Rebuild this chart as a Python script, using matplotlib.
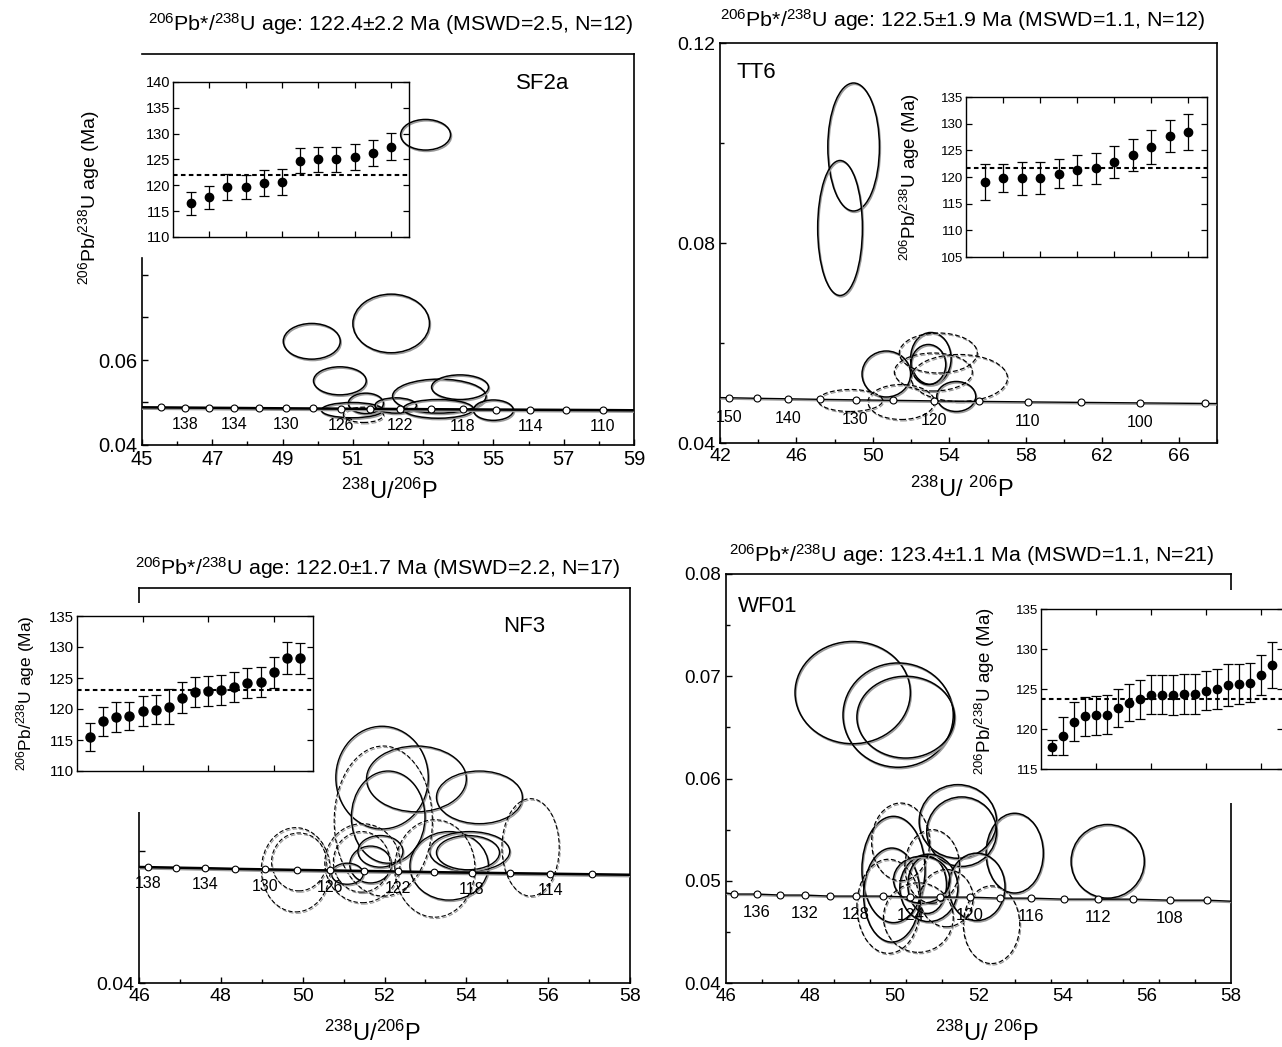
import numpy as np
import matplotlib
matplotlib.use('Agg')
import matplotlib.pyplot as plt
import matplotlib.patheffects as pe
from matplotlib.patches import Ellipse, Rectangle
from matplotlib.ticker import FormatStrFormatter, NullFormatter

plt.rcParams['font.family'] = ['Liberation Sans', 'DejaVu Sans']
plt.rcParams['mathtext.fontset'] = 'custom'
plt.rcParams['mathtext.rm'] = 'Liberation Sans'
plt.rcParams['mathtext.it'] = 'Liberation Sans:italic'
plt.rcParams['mathtext.bf'] = 'Liberation Sans:bold'

W, H = 1282, 1047

# ---------------- SF2a ----------------
sf2a_age = [116.5, 117.7, 119.6, 119.7, 120.5, 120.7, 124.8, 125.0, 125.0, 125.5, 126.3, 127.5]
sf2a_err = [2.2, 2.25, 2.5, 2.3, 2.5, 2.5, 2.4, 2.45, 2.45, 2.5, 2.5, 2.55]
sf2a_mean = 122.0
sf2a_conc_x = [45.55, 46.22, 46.90, 47.61, 48.34, 49.09, 49.86, 50.66, 51.49, 52.34,
               53.22, 54.13, 55.07, 56.05, 57.06, 58.11]
sf2a_conc_y = [0.04884, 0.04880, 0.04876, 0.04872, 0.04867, 0.04863, 0.04859, 0.04855,
               0.04851, 0.04847, 0.04842, 0.04838, 0.04834, 0.04830, 0.04826, 0.04822]
sf2a_conc_lab = ['', '138', '', '134', '', '130', '', '126', '', '122', '', '118', '', '114', '', '110']
sf2a_line_x = [45.0, 59.0]
sf2a_line_y = [0.04887, 0.04817]
sf2a_ell_x = [53.07, 49.83, 52.09, 50.63, 51.37, 50.98, 51.30, 52.22, 53.46, 54.05, 53.43, 55.00]
sf2a_ell_y = [0.1130, 0.0644, 0.0686, 0.0551, 0.0498, 0.0482, 0.0471, 0.0493, 0.0515, 0.0536, 0.0485, 0.0482]
sf2a_ell_sx = [0.71, 0.81, 1.09, 0.75, 0.50, 0.88, 0.57, 0.59, 1.33, 0.81, 1.00, 0.57]
sf2a_ell_sy = [0.0036, 0.0042, 0.0069, 0.0033, 0.0024, 0.0018, 0.0018, 0.0018, 0.0040, 0.0029, 0.0022, 0.0024]
sf2a_ell_excl = [0, 0, 0, 0, 0, 0, 1, 0, 0, 0, 0, 0]

# ---------------- TT6 ----------------
tt6_age = [119.0, 119.8, 119.8, 119.8, 120.6, 121.3, 121.6, 122.8, 124.1, 125.6, 127.7, 128.4]
tt6_err = [3.4, 2.7, 3.1, 3.0, 2.75, 2.75, 2.9, 2.95, 3.05, 3.2, 3.05, 3.35]
tt6_mean = 121.75
tt6_conc_x = [42.48, 43.96, 45.55, 47.25, 49.09, 51.07, 53.22, 55.56, 58.11, 60.90, 63.97, 67.36]
tt6_conc_y = [0.04905, 0.04894, 0.04884, 0.04873, 0.04863, 0.04853, 0.04842, 0.04832,
              0.04822, 0.04812, 0.04802, 0.04791]
tt6_conc_lab = ['150', '', '140', '', '130', '', '120', '', '110', '', '100', '']
tt6_line_x = [42.0, 68.0]
tt6_line_y = [0.04908, 0.04789]
tt6_ell_x = [48.99, 48.28, 50.70, 53.03, 52.90, 54.36, 53.42, 54.52, 53.16, 48.82, 51.48]
tt6_ell_y = [0.0992, 0.0830, 0.0538, 0.0569, 0.0557, 0.0493, 0.0580, 0.0530, 0.0542, 0.0485, 0.0482]
tt6_ell_sx = [1.35, 1.17, 1.27, 1.06, 0.91, 1.02, 2.04, 2.52, 2.04, 1.69, 1.74]
tt6_ell_sy = [0.0128, 0.0135, 0.0046, 0.0052, 0.0040, 0.0030, 0.0040, 0.0047, 0.0038, 0.0022, 0.0035]
tt6_ell_excl = [0, 0, 0, 0, 0, 0, 1, 1, 1, 1, 1]

# ---------------- NF3 ----------------
nf3_age = [115.5, 118.0, 118.7, 118.9, 119.7, 119.9, 120.4, 121.8, 122.8, 122.9, 123.1,
           123.5, 124.2, 124.4, 125.9, 128.2, 128.2]
nf3_err = [2.2, 2.3, 2.35, 2.3, 2.4, 2.35, 2.85, 2.5, 2.4, 2.4, 2.45, 2.4, 2.45, 2.4, 2.5, 2.6, 2.5]
nf3_mean = 123.0
nf3_conc_x = [46.22, 46.90, 47.61, 48.34, 49.09, 49.86, 50.66, 51.49, 52.34, 53.22,
              54.13, 55.07, 56.05, 57.06]
nf3_conc_y = [0.04880, 0.04876, 0.04872, 0.04867, 0.04863, 0.04859, 0.04855, 0.04851,
              0.04847, 0.04842, 0.04838, 0.04834, 0.04830, 0.04826]
nf3_conc_lab = ['138', '', '134', '', '130', '', '126', '', '122', '', '118', '', '114', '']
nf3_line_x = [46.0, 58.0]
nf3_line_y = [0.04881, 0.04822]
nf3_ell_x = [51.94, 52.78, 52.09, 54.32, 53.58, 54.08, 54.04, 51.66, 51.90, 51.09,
             49.83, 49.91, 51.46, 51.44, 51.97, 53.23, 55.57]
nf3_ell_y = [0.0556, 0.0555, 0.0526, 0.0541, 0.0489, 0.0500, 0.0499, 0.0490, 0.0500, 0.0483,
             0.0486, 0.0492, 0.0491, 0.0492, 0.0523, 0.0487, 0.0503]
nf3_ell_sx = [1.13, 1.22, 0.90, 1.05, 0.96, 0.98, 0.77, 0.51, 0.55, 0.39,
              0.84, 0.67, 0.92, 0.69, 1.20, 0.98, 0.70]
nf3_ell_sy = [0.0039, 0.0025, 0.0035, 0.0020, 0.0026, 0.0015, 0.0013, 0.0014, 0.0012, 0.0008,
              0.0032, 0.0022, 0.0030, 0.0023, 0.0057, 0.0037, 0.0037]
nf3_ell_excl = [0, 0, 0, 0, 0, 0, 0, 0, 0, 0, 1, 1, 1, 1, 1, 1, 1]

# ---------------- WF01 ----------------
wf01_age = [117.7, 119.1, 120.9, 121.6, 121.7, 121.8, 122.6, 123.3, 123.7, 124.3, 124.3,
            124.3, 124.4, 124.4, 124.8, 125.0, 125.5, 125.6, 125.8, 126.7, 128.0]
wf01_err = [0.9, 2.4, 2.45, 2.45, 2.4, 2.45, 2.4, 2.35, 2.4, 2.45, 2.45, 2.5, 2.5, 2.5,
            2.4, 2.55, 2.6, 2.5, 2.45, 2.5, 2.9]
wf01_mean = 123.8
wf01_conc_x = [46.18, 46.73, 47.29, 47.88, 48.46, 49.09, 49.72, 50.38, 51.08, 51.79,
               52.50, 53.25, 54.04, 54.84, 55.68, 56.54, 57.43]
wf01_conc_y = [0.0487, 0.0487, 0.0486, 0.0486, 0.0485, 0.0485, 0.0485, 0.0484, 0.0484,
               0.0484, 0.0483, 0.0483, 0.0482, 0.0482, 0.0482, 0.0481, 0.0481]
wf01_conc_lab = ['', '136', '', '132', '', '128', '', '124', '', '120', '', '116', '', '112', '', '108', '']
wf01_line_x = [46.0, 58.0]
wf01_line_y = [0.0488, 0.0480]
wf01_ell_x = [49.01, 50.09, 50.27, 55.07, 52.86, 51.51, 51.60, 49.98, 49.94, 50.82,
              50.78, 51.96, 50.65, 50.15, 49.86, 50.90, 50.57, 52.31, 51.24]
wf01_ell_y = [0.0684, 0.0662, 0.0660, 0.0519, 0.0527, 0.0558, 0.0548, 0.0511, 0.0486, 0.0493,
              0.0496, 0.0494, 0.0501, 0.0538, 0.0475, 0.0514, 0.0464, 0.0457, 0.0483]
wf01_ell_sx = [1.37, 1.31, 1.16, 0.87, 0.68, 0.92, 0.83, 0.75, 0.67, 0.69,
               0.46, 0.67, 0.67, 0.69, 0.75, 0.65, 0.83, 0.67, 0.63]
wf01_ell_sy = [0.0050, 0.0051, 0.0040, 0.0036, 0.0039, 0.0036, 0.0034, 0.0052, 0.0046, 0.0033,
               0.0028, 0.0033, 0.0023, 0.0038, 0.0046, 0.0036, 0.0034, 0.0038, 0.0028]
wf01_ell_excl = [0, 0, 0, 0, 0, 0, 0, 0, 0, 0, 0, 0, 0, 1, 1, 1, 1, 1, 1]

AGE_LABEL = r'$^{206}$Pb/$^{238}$U age (Ma)'


def shadow():
    return [pe.SimpleLineShadow(offset=(0.7, -1.0), shadow_color='0.6', alpha=1.0), pe.Normal()]


def fig_rect(left, top, right, bottom):
    return [left / W, 1 - bottom / H, (right - left) / W, (bottom - top) / H]


def fig_text(x, y, s, **kw):
    fig.text(x / W, 1 - y / H, s, ha='center', va='center', **kw)


def draw_main(ax, line_x, line_y, cx, cy, labs, ex, ey, esx, esy, excl,
              lw, ms, lab_fs, lab_off, ell_lw):
    for x, y, sx, sy, d in zip(ex, ey, esx, esy, excl):
        e = Ellipse((x, y), 2 * sx, 2 * sy, fill=False, edgecolor='black',
                    lw=ell_lw * 0.8 if d else ell_lw,
                    linestyle=(0, (4, 2)) if d else '-', zorder=2,
                    path_effects=shadow())
        ax.add_patch(e)
    ax.plot(line_x[:1] + cx + line_x[1:], line_y[:1] + cy + line_y[1:],
            color='black', lw=lw, zorder=3, path_effects=shadow())
    ax.plot(cx, cy, 'o', ms=ms, mfc='white', mec='black', mew=0.8, zorder=5)
    for x, y, t in zip(cx, cy, labs):
        if t:
            ax.annotate(t, (x, y), xytext=(0, lab_off), textcoords='offset points',
                        ha='center', va='center', fontsize=lab_fs, zorder=6)
    for s in ax.spines.values():
        s.set_linewidth(1.2)
    ax.tick_params(which='both', direction='in', width=1.0)
    ax.tick_params(which='major', length=4.5)
    ax.tick_params(which='minor', length=3)


def draw_inset(rect, ages, errs, mean, ylim, xticks, fs, ms, face):
    ins = fig.add_axes(rect, zorder=2, facecolor=face)
    idx = np.arange(1, len(ages) + 1)
    ins.errorbar(idx, ages, yerr=errs, fmt='o', color='black', ms=ms,
                 capsize=3.5, elinewidth=0.9, capthick=0.9)
    ins.axhline(mean, color='black', lw=1.5, ls=(0, (2.2, 1.6)))
    ins.set_xlim(0, len(ages) + 1)
    ins.set_ylim(*ylim)
    ins.set_yticks(np.arange(ylim[0], ylim[1] + 1, 5))
    ins.set_xticks(xticks)
    ins.xaxis.set_major_formatter(NullFormatter())
    ins.tick_params(direction='in', top=True, right=True, length=4, width=0.9,
                    labelsize=fs, pad=2)
    for s in ins.spines.values():
        s.set_linewidth(1.0)
    return ins


fig = plt.figure(figsize=(W / 100, H / 100), dpi=100)

# ---------------- panel SF2a ----------------
ax1 = fig.add_axes(fig_rect(142, 54, 634, 445))
draw_main(ax1, sf2a_line_x, sf2a_line_y, sf2a_conc_x, sf2a_conc_y, sf2a_conc_lab,
          sf2a_ell_x, sf2a_ell_y, sf2a_ell_sx, sf2a_ell_sy, sf2a_ell_excl,
          lw=1.8, ms=5, lab_fs=11.5, lab_off=-12, ell_lw=1.1)
ax1.set_xlim(45, 59)
ax1.set_ylim(0.04, 0.132)
ax1.set_xticks(np.arange(45, 60, 2))
ax1.set_xticks(np.arange(46, 59, 2), minor=True)
ax1.set_yticks([0.04, 0.05, 0.06, 0.07, 0.08])
ax1.set_yticklabels(['0.04', '', '0.06', '', ''])
ax1.spines['left'].set_bounds(0.04, 0.084)
ax1.tick_params(labelsize=14.5)
draw_inset(fig_rect(173, 82, 409, 237), sf2a_age, sf2a_err, sf2a_mean, (110, 140),
           [2, 4, 6, 8, 10, 12], fs=10.5, ms=6, face='none')
ax1.text(0.815, 0.925, 'SF2a', transform=ax1.transAxes, ha='center', va='center', fontsize=16)
fig_text(391, 24, r'$^{206}$Pb*/$^{238}$U age: 122.4±2.2 Ma (MSWD=2.5, N=12)', fontsize=15.4)
fig_text(390, 491, r'$^{238}$U/$^{206}$P', fontsize=17)
fig_text(89, 198, AGE_LABEL, fontsize=14, rotation=90)

# ---------------- panel TT6 ----------------
ax2 = fig.add_axes(fig_rect(720, 43, 1217, 443))
draw_main(ax2, tt6_line_x, tt6_line_y, tt6_conc_x, tt6_conc_y, tt6_conc_lab,
          tt6_ell_x, tt6_ell_y, tt6_ell_sx, tt6_ell_sy, tt6_ell_excl,
          lw=1.0, ms=5, lab_fs=11.5, lab_off=-14, ell_lw=1.1)
ax2.set_xlim(42, 68)
ax2.set_ylim(0.04, 0.12)
ax2.set_xticks(np.arange(42, 67, 4))
ax2.set_xticks(np.arange(44, 69, 4), minor=True)
ax2.set_yticks([0.04, 0.08, 0.12])
ax2.set_yticks([0.06, 0.10], minor=True)
ax2.yaxis.set_major_formatter(FormatStrFormatter('%.2f'))
ax2.tick_params(labelsize=14)
draw_inset(fig_rect(966, 97, 1207, 257), tt6_age, tt6_err, tt6_mean, (105, 135),
           [2, 4, 6, 8, 10, 12], fs=9.5, ms=6, face='white')
fig_text(756, 73, 'TT6', fontsize=16)
fig_text(963, 20, r'$^{206}$Pb*/$^{238}$U age: 122.5±1.9 Ma (MSWD=1.1, N=12)', fontsize=15.4)
fig_text(962, 489, r'$^{238}$U/ $^{206}$P', fontsize=17)
fig_text(910, 177, AGE_LABEL, fontsize=13.5, rotation=90)

# ---------------- panel NF3 ----------------
ax3 = fig.add_axes(fig_rect(139, 588, 630, 983))
draw_main(ax3, nf3_line_x, nf3_line_y, nf3_conc_x, nf3_conc_y, nf3_conc_lab,
          nf3_ell_x, nf3_ell_y, nf3_ell_sx, nf3_ell_sy, nf3_ell_excl,
          lw=1.8, ms=4.8, lab_fs=11.5, lab_off=-12, ell_lw=1.0)
ax3.set_xlim(46, 58)
ax3.set_ylim(0.04, 0.07)
ax3.set_xticks(np.arange(46, 59, 2))
ax3.set_xticks(np.arange(47, 58, 2), minor=True)
ax3.set_yticks([0.04, 0.05, 0.06])
ax3.set_yticklabels(['0.04', '', ''])
ax3.tick_params(labelsize=14)
fig.patches.append(Rectangle((0, 1 - 812 / H), 330 / W, 209 / H, transform=fig.transFigure,
                             facecolor='white', edgecolor='none', zorder=1))
draw_inset(fig_rect(77, 616, 313, 771), nf3_age, nf3_err, nf3_mean, (110, 135),
           [5, 10, 15], fs=10.8, ms=6.5, face='white')
fig_text(524, 627, 'NF3', fontsize=16)
fig_text(378, 568, r'$^{206}$Pb*/$^{238}$U age: 122.0±1.7 Ma (MSWD=2.2, N=17)', fontsize=15.4)
fig_text(373, 1033, r'$^{238}$U/$^{206}$P', fontsize=17)
fig_text(26, 693, AGE_LABEL, fontsize=12.5, rotation=90)

# ---------------- panel WF01 ----------------
ax4 = fig.add_axes(fig_rect(726, 574, 1231, 983))
draw_main(ax4, wf01_line_x, wf01_line_y, wf01_conc_x, wf01_conc_y, wf01_conc_lab,
          wf01_ell_x, wf01_ell_y, wf01_ell_sx, wf01_ell_sy, wf01_ell_excl,
          lw=1.0, ms=5, lab_fs=12, lab_off=-13, ell_lw=1.1)
ax4.set_xlim(46, 58)
ax4.set_ylim(0.04, 0.08)
ax4.set_xticks(np.arange(46, 59, 2))
ax4.set_xticks(np.linspace(46, 58, 15), minor=True)
ax4.tick_params(axis='x', which='major', length=0)
ax4.set_yticks([0.04, 0.05, 0.06, 0.07, 0.08])
ax4.set_yticks([0.045, 0.055, 0.065, 0.075], minor=True)
ax4.yaxis.set_major_formatter(FormatStrFormatter('%.2f'))
ax4.tick_params(labelsize=13.5)
fig.patches.append(Rectangle((1000 / W, 1 - 803 / H), 282 / W, 213 / H, transform=fig.transFigure,
                             facecolor='white', edgecolor='none', zorder=1))
draw_inset(fig_rect(1041, 609, 1283, 769), wf01_age, wf01_err, wf01_mean, (115, 135),
           [5, 10, 15, 20], fs=9.5, ms=6, face='white')
fig_text(768, 606, 'WF01', fontsize=16)
fig_text(972, 555, r'$^{206}$Pb*/$^{238}$U age: 123.4±1.1 Ma (MSWD=1.1, N=21)', fontsize=15.4)
fig_text(987, 1033, r'$^{238}$U/ $^{206}$P', fontsize=17)
fig_text(985, 691, AGE_LABEL, fontsize=13.5, rotation=90)

fig.savefig('out.png', dpi=100)
